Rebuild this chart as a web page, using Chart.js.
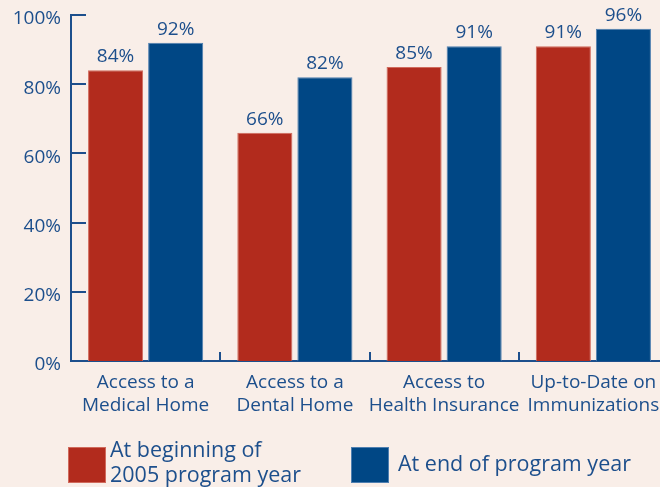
<!DOCTYPE html>
<html>
<head>
<meta charset="utf-8">
<script src="https://cdn.jsdelivr.net/npm/chart.js@4"></script>
<style>
  html, body { margin: 0; padding: 0; background: #f9eee8; overflow: hidden; }
  canvas { display: block; }
</style>
</head>
<body>
<canvas id="chart" width="672" height="487"></canvas>
<script>
// Data
const categories = [
  ['Access to a', 'Medical Home'],
  ['Access to a', 'Dental Home'],
  ['Access to', 'Health Insurance'],
  ['Up-to-Date on', 'Immunizations'],
]
const beginValues = [84, 66, 85, 91]
const endValues = [92, 82, 91, 96]
const yTicks = [0, 20, 40, 60, 80, 100]
const seriesNames = ['At beginning of 2005 program year', 'At end of program year']
const legendLines = [['At beginning of', '2005 program year'], ['At end of program year']]

const RED = '#b22b1d'
const BLUE = '#004785'
const TEXT = '#1d4f8c'
const FONT = '"Open Sans", sans-serif'

const innerTicks = {
  id: 'innerTicks',
  afterDatasetsDraw(chart) {
    const { ctx, chartArea, scales: { x, y } } = chart
    ctx.save()
    ctx.strokeStyle = TEXT
    ctx.lineWidth = 2
    yTicks.forEach((v) => {
      const py = Math.round(y.getPixelForValue(v))
      ctx.beginPath()
      ctx.moveTo(chartArea.left, py)
      ctx.lineTo(chartArea.left + 15, py)
      ctx.stroke()
    })
    for (let i = 0; i < categories.length - 1; i++) {
      const px = Math.round((x.getPixelForTick(i) + x.getPixelForTick(i + 1)) / 2)
      ctx.beginPath()
      ctx.moveTo(px, chartArea.bottom)
      ctx.lineTo(px, chartArea.bottom - 9)
      ctx.stroke()
    }
    ctx.restore()
  },
}

const valueLabels = {
  id: 'valueLabels',
  afterDatasetsDraw(chart) {
    const { ctx } = chart
    ctx.save()
    ctx.fillStyle = TEXT
    ctx.font = '19px ' + FONT
    ctx.textAlign = 'center'
    ctx.textBaseline = 'alphabetic'
    chart.data.datasets.forEach((ds, i) => {
      chart.getDatasetMeta(i).data.forEach((bar, j) => {
        ctx.fillText(ds.data[j] + '%', bar.x, bar.y - 8)
      })
    })
    ctx.restore()
  },
}

const boxLegend = {
  id: 'boxLegend',
  afterDraw(chart) {
    const { ctx } = chart
    const spots = [
      { box: [68, 447], text: 110, baselines: [457, 482] },
      { box: [351, 447], text: 398, baselines: [471] },
    ]
    ctx.save()
    ctx.font = '21.5px ' + FONT
    ctx.textAlign = 'left'
    chart.data.datasets.forEach((ds, i) => {
      const s = spots[i]
      ctx.fillStyle = ds.backgroundColor
      ctx.fillRect(s.box[0], s.box[1], 38, 36)
      ctx.strokeStyle = ds.borderColor
      ctx.lineWidth = 1
      ctx.strokeRect(s.box[0] + 0.5, s.box[1] + 0.5, 37, 35)
      ctx.fillStyle = TEXT
      legendLines[i].forEach((line, k) => ctx.fillText(line, s.text, s.baselines[k]))
    })
    ctx.restore()
  },
}

new Chart(document.getElementById('chart'), {
  type: 'bar',
  data: {
    labels: categories,
    datasets: [
      {
        label: seriesNames[0],
        data: beginValues,
        backgroundColor: RED,
        borderColor: '#d06a5c',
        borderWidth: 1,
      },
      {
        label: seriesNames[1],
        data: endValues,
        backgroundColor: BLUE,
        borderColor: '#4f7fb0',
        borderWidth: 1,
      },
    ],
  },
  options: {
    responsive: false,
    animation: false,
    categoryPercentage: 0.805,
    barPercentage: 0.917,
    layout: { padding: { left: 0, right: 4, top: 15, bottom: 0 } },
    plugins: {
      legend: { display: false },
      tooltip: { enabled: false },
    },
    scales: {
      x: {
        afterFit: (scale) => {
          scale.height = 126
          scale.paddingLeft = 0
          scale.paddingRight = 0
        },
        grid: { display: false, drawTicks: false },
        border: { display: true, color: TEXT, width: 2 },
        ticks: {
          color: TEXT,
          padding: 10,
          autoSkip: false,
          font: { family: FONT, size: 19, lineHeight: 1.21 },
          maxRotation: 0,
        },
      },
      y: {
        min: 0,
        max: 100,
        afterFit: (scale) => {
          scale.width = 71
          scale.paddingTop = 0
          scale.paddingBottom = 0
        },
        grid: { display: false, drawTicks: false },
        border: { display: true, color: TEXT, width: 2 },
        ticks: {
          stepSize: 20,
          color: TEXT,
          padding: 10,
          labelOffset: 4,
          font: { family: FONT, size: 19 },
          callback: (v) => v + '%',
        },
      },
    },
  },
  plugins: [innerTicks, valueLabels, boxLegend],
})
</script>
</body>
</html>
